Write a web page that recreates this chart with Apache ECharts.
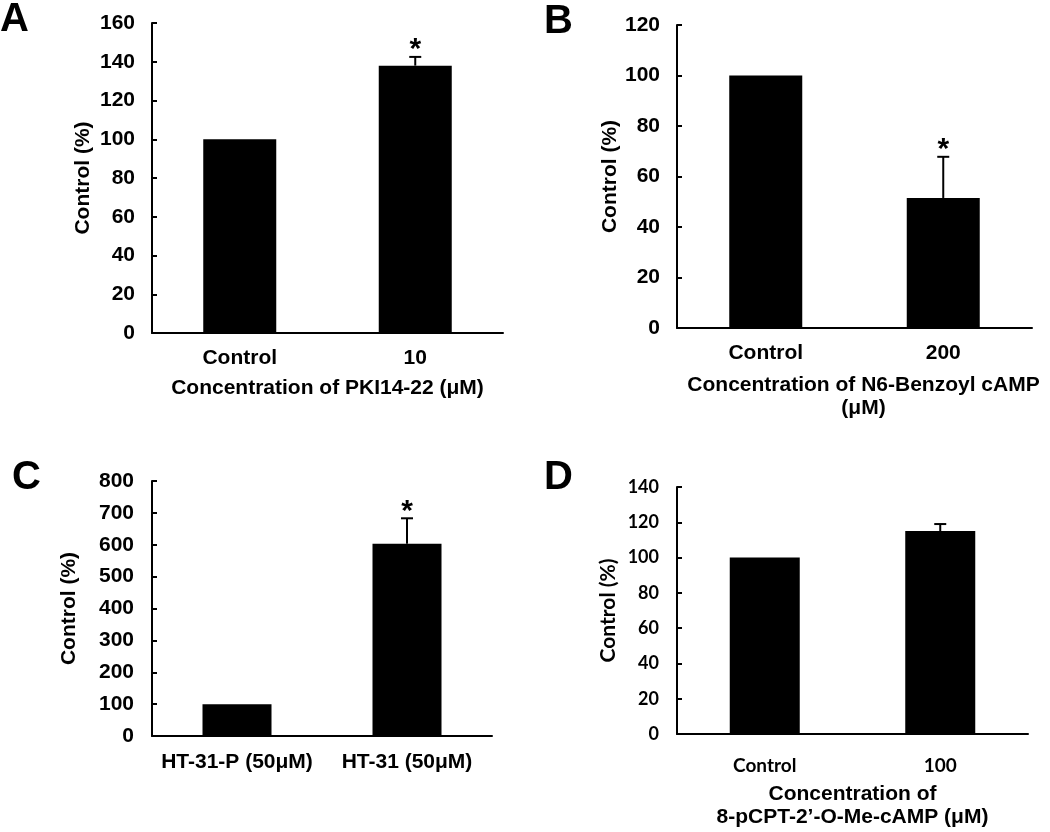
<!DOCTYPE html>
<html><head><meta charset="utf-8">
<script src="https://cdn.jsdelivr.net/npm/echarts@6/dist/echarts.min.js"></script>
<style>html,body{margin:0;padding:0;background:#fff}#c{width:1050px;height:832px}</style>
</head><body><div id="c"></div>
<script>
// Panel A
const catA = ['Control', '10'];
const valA = [100, 138];
const errA = [0, 4.5];
const sigA = [0, 1];
// Panel B
const catB = ['Control', '200'];
const valB = [100, 51.5];
const errB = [0, 16.3];
const sigB = [0, 1];
// Panel C
const catC = ['HT-31-P (50\u03bcM)', 'HT-31 (50\u03bcM)'];
const valC = [100, 603];
const errC = [0, 80];
const sigC = [0, 1];
// Panel D
const catD = ['Control', '100'];
const valD = [100, 115];
const errD = [0, 4];
const sigD = [0, 0];

const F = '"Liberation Sans", Arial, sans-serif';
const FD = 'Lato, "Open Sans", sans-serif';

function errRender(params, api) {
  const i = api.value(0), v = api.value(1), e = api.value(2), s = api.value(3);
  const base = api.coord([i, v]);
  const top = api.coord([i, v + e]);
  const ch = [];
  if (e > 0) {
    ch.push({type: 'line', shape: {x1: base[0], y1: base[1], x2: top[0], y2: top[1]}, style: {stroke: '#000', lineWidth: 2}});
    ch.push({type: 'line', shape: {x1: top[0] - 6, y1: top[1], x2: top[0] + 6, y2: top[1]}, style: {stroke: '#000', lineWidth: 2}});
  }
  if (s) {
    ch.push({type: 'text', x: top[0], y: top[1] - 7, style: {text: '*', fill: '#000', font: 'bold 30px ' + F, align: 'center', verticalAlign: 'middle'}});
  }
  return {type: 'group', children: ch};
}

const grids = [
  {left: 152, top: 23, width: 351, height: 310},
  {left: 677, top: 25, width: 355, height: 303},
  {left: 152, top: 481, width: 340, height: 255},
  {left: 677, top: 487, width: 351, height: 247}
];
const cats = [catA, catB, catC, catD];
const vals = [valA, valB, valC, valD];
const errs = [errA, errB, errC, errD];
const sigs = [sigA, sigB, sigC, sigD];
const ymax = [160, 120, 800, 140];
const yint = [20, 20, 100, 20];
const xnames = ['Concentration of PKI14-22 (\u03bcM)', 'Concentration of N6-Benzoyl cAMP\n(\u03bcM)', '', 'Concentration of\n8-pCPT-2\u2019-O-Me-cAMP (\u03bcM)'];
const xnameGap = [44, 46, 0, 49];
const xlabMargin = [15, 15, 16, 22];
const ynameGap = [58, 56, 72, 58];
const ylabMargin = [17, 17, 18, 18];
const barW = [73, 73, 69, 70];
const tickFont = [F, F, F, FD];
const ytickSize = [21, 21, 21, 18];
const xtickSize = [21, 21, 21, 19];

const option = {
  animation: false,
  backgroundColor: '#fff',
  grid: grids,
  xAxis: grids.map((g, k) => ({
    type: 'category', gridIndex: k, data: cats[k],
    axisLine: {lineStyle: {color: '#000', width: 2}},
    axisTick: {inside: true, length: 5, lineStyle: {color: '#000', width: 2}},
    axisLabel: {color: '#000', fontWeight: 'bold', fontFamily: tickFont[k], fontSize: xtickSize[k], margin: xlabMargin[k], interval: 0, hideOverlap: false},
    name: xnames[k], nameLocation: 'middle', nameGap: xnameGap[k],
    nameTextStyle: {color: '#000', fontWeight: 'bold', fontFamily: F, fontSize: 21, lineHeight: 23,
      padding: k === 1 ? [0, 0, 0, 18] : 0}
  })),
  yAxis: grids.map((g, k) => ({
    type: 'value', gridIndex: k, min: 0, max: ymax[k], interval: yint[k],
    axisLine: {show: true, lineStyle: {color: '#000', width: 2}},
    axisTick: {show: true, inside: true, length: 5, lineStyle: {color: '#000', width: 2}},
    splitLine: {show: false},
    axisLabel: {color: '#000', fontWeight: 'bold', fontFamily: tickFont[k], fontSize: ytickSize[k], margin: ylabMargin[k]},
    name: 'Control (%)', nameLocation: 'middle', nameRotate: 90, nameGap: ynameGap[k],
    nameTextStyle: {color: '#000', fontWeight: 'bold', fontFamily: k === 3 ? FD : F, fontSize: 21}
  })),
  series: [].concat(
    grids.map((g, k) => ({
      type: 'bar', xAxisIndex: k, yAxisIndex: k, data: vals[k], barWidth: barW[k],
      itemStyle: {color: '#000'}
    })),
    grids.map((g, k) => ({
      type: 'custom', xAxisIndex: k, yAxisIndex: k, renderItem: errRender,
      data: vals[k].map((v, i) => [i, v, errs[k][i], sigs[k][i]]), z: 5
    }))
  ),
  graphic: [
    {type: 'text', x: 0, y: 0, style: {text: 'A', font: 'bold 40px ' + F, fill: '#000', verticalAlign: 'top'}},
    {type: 'text', x: 544, y: 2, style: {text: 'B', font: 'bold 40px ' + F, fill: '#000', verticalAlign: 'top'}},
    {type: 'text', x: 12, y: 458, style: {text: 'C', font: 'bold 40px ' + F, fill: '#000', verticalAlign: 'top'}},
    {type: 'text', x: 544, y: 458, style: {text: 'D', font: 'bold 40px ' + F, fill: '#000', verticalAlign: 'top'}}
  ]
};
const chart = echarts.init(document.getElementById('c'), null, {renderer: 'canvas'});
chart.setOption(option);
</script>
</body></html>
